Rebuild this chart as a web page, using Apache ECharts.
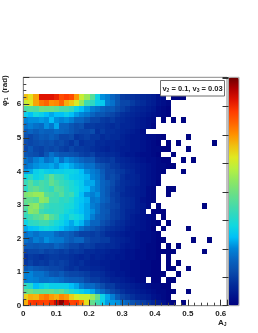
<!DOCTYPE html>
<html>
<head>
<meta charset="utf-8">
<style>html,body{margin:0;padding:0;background:#fff}#c{width:258px;height:333px}</style>
<script src="https://cdn.jsdelivr.net/npm/echarts@6/dist/echarts.min.js"></script>
</head>
<body>
<div id="c"></div>
<script>
// Cell contents per row, top row first; each row lists its bins from A_J = 0 rightward. 0 = empty bin.
const r00=[70,66,73,90,90,90,88,83,85,83,74,62,56,46,34,26,24,20,17,12,11,10,9,8,7,6,4,3,0,1,1,1];
const r01=[62,65,73,78,80,75,76,80,72,69,64,55,42,40,33,32,24,22,17,14,14,12,10,9,7,6,4,3,2];
const r02=[44,46,45,50,49,49,47,44,44,41,34,30,27,24,22,20,18,18,15,13,11,9,8,7,6,5,3,2,1];
const r03=[33,30,35,33,30,28,30,30,33,30,27,25,23,20,17,17,15,14,12,10,9,8,7,6,5,4,3,2,1];
const r04=[25,26,26,27,26,30,26,25,26,24,20,20,17,14,14,12,11,12,10,9,8,7,6,5,4,3,0,1,0,1,0,1];
const r05=[22,24,22,21,26,23,28,20,20,17,15,16,12,12,11,11,10,9,10,8,8,7,6,5,4,2];
const r06=[18,20,18,20,19,19,21,20,19,17,15,14,14,15,10,12,10,10,9,8,7,6,5,3];
const r07=[16,14,16,18,17,19,17,14,14,15,11,12,13,11,11,9,10,9,9,7,6,5,5,4,3,3,2,1,0,0,0,0,1];
const r08=[15,14,15,16,15,16,14,15,13,11,14,10,11,11,9,9,8,8,7,7,6,5,5,4,3,2,1,0,1,0,1,0,0,0,0,0,0,1];
const r09=[14,17,14,13,15,14,15,13,12,14,12,12,11,10,9,8,7,8,7,6,6,5,5,4,3,2,2,1,1,0,0,0,1];
const r10=[17,16,15,13,17,22,19,17,17,16,15,13,12,13,10,10,9,9,8,6,5,5,4,3,3,2,1,0,0,1];
const r11=[22,20,24,26,22,24,27,22,26,24,22,20,18,18,13,12,11,12,9,8,7,6,5,4,3,3,2,1,1,0,0,1,0,1];
const r12=[22,24,26,27,27,28,26,29,30,28,26,25,22,22,18,16,14,12,11,9,8,7,6,5,4,3,2,2,1,1];
const r13=[27,28,33,35,33,32,33,33,34,34,33,30,26,24,22,18,14,14,12,11,9,8,6,5,4,3,2,1,0,0,0,1];
const r14=[35,39,34,36,41,47,41,40,36,33,32,31,29,25,23,19,14,15,13,10,8,8,7,5,4,3,2];
const r15=[41,46,41,44,42,48,44,41,39,37,34,32,28,28,24,20,18,15,12,10,9,8,7,5,4,3,1];
const r16=[39,46,48,44,42,40,46,44,40,37,35,32,30,26,24,20,17,14,11,10,8,7,6,5,3,2,0,0,1,1];
const r17=[52,54,56,56,46,44,42,46,40,42,35,30,26,24,26,20,17,13,12,9,8,7,6,5,3,2,0,0,1];
const r18=[48,48,46,55,53,42,42,39,40,37,33,31,29,23,24,20,18,14,12,10,9,8,6,4,3,2];
const r19=[46,53,55,46,42,40,40,39,37,36,33,30,28,24,22,18,16,14,13,10,9,8,6,5,3,0,1,0,0,0,0,0,0,0,0,1];
const r20=[43,54,52,42,40,39,40,39,36,34,32,30,28,26,22,18,17,13,12,10,8,7,6,4,0,1,1,1];
const r21=[40,43,46,48,53,46,42,36,33,37,35,33,28,24,20,18,16,13,12,10,8,6,5,4,3,2,0,1];
const r22=[34,39,40,42,42,39,36,34,31,28,32,29,25,20,20,16,14,12,10,9,7,6,5,4,3,2,1,0,1];
const r23=[28,30,31,34,35,34,33,30,28,27,26,22,19,17,15,13,11,10,9,8,6,5,5,4,3,1,0,1,0,0,0,0,1];
const r24=[22,24,22,24,24,24,21,19,20,18,15,13,13,12,13,11,9,8,7,6,5,5,4,3,3,2,1];
const r25=[22,20,24,22,26,24,23,23,20,18,20,20,15,13,13,12,12,9,8,7,6,5,4,3,3,2,1,1,0,0,0,0,0,1,0,0,1];
const r26=[18,18,17,18,18,17,20,18,16,14,14,12,13,12,10,10,9,9,8,6,5,5,4,3,2,2,1,0,1,0,1];
const r27=[13,14,14,15,13,14,13,12,13,11,12,11,9,9,8,8,7,6,6,5,4,4,3,3,2,2,1,1,1,1,0,0,0,0,0,1];
const r28=[10,12,11,10,11,12,12,11,11,10,9,8,9,7,8,7,6,6,5,5,4,4,3,3,2,2,1,0,1];
const r29=[11,13,11,12,11,13,12,13,12,10,9,10,8,7,7,6,6,5,5,4,4,3,3,2,2,1,1,0,1,0,1];
const r30=[17,19,17,16,15,14,14,13,11,10,11,9,9,8,8,7,6,5,5,4,4,3,3,2,2,1,1,0,1,1,0,0,1];
const r31=[24,25,22,22,20,17,16,18,15,14,14,13,12,10,10,9,7,6,5,5,4,3,3,2,2,1,1,1,0,0,1];
const r32=[24,25,24,22,22,23,22,21,19,18,18,17,14,12,12,10,9,7,7,6,5,4,3,2,0,1,1,0,1,1];
const r33=[40,38,30,33,35,33,33,33,33,30,28,24,21,21,18,15,12,12,9,8,7,6,5,4,3,2,2,1,1];
const r34=[48,50,47,47,47,48,45,47,42,38,35,33,30,28,24,21,17,14,12,10,8,7,6,5,4,3,2,2,1,1,0,0,1];
const r35=[68,72,71,76,78,74,72,76,74,68,64,62,62,56,48,34,28,24,18,14,12,10,8,7,6,4,3,2,1];
const r36=[72,85,86,85,84,87,92,98,90,84,85,78,66,48,42,33,27,27,26,22,20,16,14,12,10,8,6,4,2,1,0,1];
const rows=[r00,r01,r02,r03,r04,r05,r06,r07,r08,r09,r10,r11,r12,r13,r14,r15,r16,r17,r18,r19,r20,r21,r22,r23,r24,r25,r26,r27,r28,r29,r30,r31,r32,r33,r34,r35,r36];

const xBin=0.619/40;
const yBin=0.17;
const xMax=0.619, yMax=6.8;
const palette=['#00007f','#00188f','#04309c','#0a4cac','#0864c0','#0084d8','#00c0f8','#10d8e0','#30d8c0','#50dca0','#70e080','#90e860','#b8f040','#e0e820','#f0c010','#ff9000','#ff6400','#ff3c00','#e01400','#b00000','#6c0000'];

const cells=[];
rows.forEach((row,i)=>row.forEach((v,j)=>{ if(v>0) cells.push([j*xBin,(rows.length-1-i)*yBin,v]); }));

const font='"Liberation Sans", Arial, sans-serif';
const ink='#222';
const chart=echarts.init(document.getElementById('c'),null,{renderer:'canvas'});
chart.setOption({
  animation:false,
  backgroundColor:'#fff',
  grid:[
    {left:23.3,top:77.3,width:203.7,height:228.4,show:true,borderColor:'#8a8a8a',borderWidth:1,backgroundColor:'#fff',z:1},
    {left:228.5,top:77.3,width:10.5,height:228.4,show:true,borderColor:'#aaa',borderWidth:1,backgroundColor:'transparent',z:8}
  ],
  xAxis:[
    {type:'value',gridIndex:0,min:0,max:xMax,interval:0.1,minorTick:{show:true,splitNumber:5,length:3,lineStyle:{color:'#444',width:1}},
     axisLine:{show:true,lineStyle:{color:'#8a8a8a'}},axisTick:{show:true,inside:true,length:6,lineStyle:{color:'#333'}},
     axisLabel:{color:ink,fontFamily:font,fontWeight:'bold',fontSize:8,margin:4,showMaxLabel:false},splitLine:{show:false},z:6},
    {type:'value',gridIndex:1,min:0,max:1,show:false}
  ],
  yAxis:[
    {type:'value',gridIndex:0,min:0,max:yMax,interval:1,minorTick:{show:true,splitNumber:5,length:3,lineStyle:{color:'#444',width:1}},
     axisLine:{show:true,lineStyle:{color:'#8a8a8a'}},axisTick:{show:true,inside:true,length:6,lineStyle:{color:'#333'}},
     axisLabel:{color:ink,fontFamily:font,fontWeight:'bold',fontSize:8,margin:2,showMaxLabel:false},splitLine:{show:false},z:6},
    {type:'value',gridIndex:1,min:0,max:100,interval:12.45,position:'right',
     axisLine:{show:false},axisTick:{show:true,inside:true,length:6,lineStyle:{color:'#333'}},axisLabel:{show:false},splitLine:{show:false},z:9}
  ],
  visualMap:{type:'continuous',seriesIndex:0,dimension:2,min:0,max:100,show:true,calculable:false,realtime:false,hoverLink:false,
    left:228.5,top:77.3,itemWidth:10.5,itemHeight:228.4,text:['',''],textGap:0,padding:0,inRange:{color:palette},z:5},
  series:[{
    type:'custom',coordinateSystem:'cartesian2d',xAxisIndex:0,yAxisIndex:0,clip:true,
    encode:{x:0,y:1},data:cells,z:2,silent:true,
    renderItem:(params,api)=>{
      const a=api.coord([api.value(0),api.value(1)]);
      const b=api.coord([api.value(0)+xBin,api.value(1)+yBin]);
      const x0=Math.round(a[0]),x1=Math.round(b[0]),y0=Math.round(b[1]),y1=Math.round(a[1]);
      return {type:'rect',shape:{x:x0,y:y0,width:x1-x0,height:y1-y0},style:{fill:api.visual('color')}};
    }
  }],
  graphic:[
    {type:'rect',z:20,shape:{x:160.5,y:80.5,width:64,height:15.5},style:{fill:'#fff',stroke:'#6e6e6e',lineWidth:1}},
    {type:'text',z:21,x:192.5,y:88.5,style:{
      text:'{m|v}{s|2}{m| = 0.1, v}{s|3}{m| = 0.03}',align:'center',verticalAlign:'middle',
      rich:{m:{fontFamily:font,fontWeight:'bold',fontSize:7.5,fill:ink,lineHeight:9},s:{fontFamily:font,fontWeight:'bold',fontSize:5,fill:ink,verticalAlign:'bottom',lineHeight:6}}
    }},
    {type:'text',z:21,x:5,y:106,rotation:Math.PI/2,style:{
      text:'{m|φ}{s|1}{m|  (rad)}',align:'left',verticalAlign:'middle',
      rich:{m:{fontFamily:font,fontWeight:'bold',fontSize:8,fill:ink,lineHeight:9},s:{fontFamily:font,fontWeight:'bold',fontSize:5,fill:ink,verticalAlign:'bottom',lineHeight:6}}
    }},
    {type:'text',z:21,x:218,y:323,style:{
      text:'{m|A}{s|J}',align:'left',verticalAlign:'middle',
      rich:{m:{fontFamily:font,fontWeight:'bold',fontSize:8,fill:ink,lineHeight:9},s:{fontFamily:font,fontWeight:'bold',fontSize:5,fill:ink,verticalAlign:'bottom',lineHeight:6}}
    }}
  ]
});
</script>
</body>
</html>
